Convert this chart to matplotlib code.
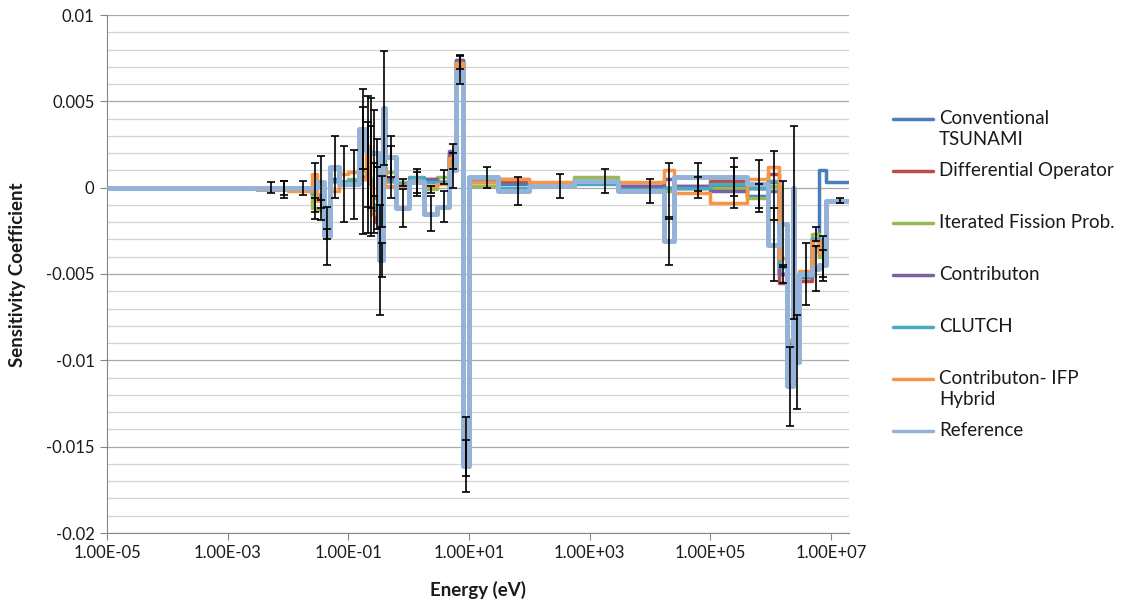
import numpy as np
import matplotlib
matplotlib.use("Agg")
import matplotlib.pyplot as plt
from matplotlib.lines import Line2D
from matplotlib.ticker import NullLocator

plt.rcParams["font.family"] = ["Lato", "DejaVu Sans"]

# ----------------------------------------------------------------------
# 44-group energy structure (eV) and the sensitivity profiles read off
# the reference chart, one value per group.
# ----------------------------------------------------------------------
edges = [1e-5, 3e-3, 7.5e-3, 1e-2, 2.53e-2, 3e-2, 4e-2, 5e-2, 7e-2, 0.1,
         0.15, 0.2, 0.225, 0.25, 0.275, 0.325, 0.35, 0.375, 0.4, 0.625,
         1.0, 1.77, 3.0, 4.75, 6.0, 8.1, 10.0, 30.0, 100.0, 550.0,
         3e3, 1.7e4, 2.5e4, 1e5, 4e5, 9e5, 1.4e6, 1.85e6, 2.354e6, 2.479e6,
         3e6, 4.8e6, 6.434e6, 8.187e6, 2e7]

conventional = [0, -0.0001, -0.0001, -0.0001, -0.0003, -0.0005, -0.0026, 0.0005, 0.0003, 0.0004, 0.0006,
                0.0006, 0.0004, -0.0010, -0.0012, -0.0018, -0.0010, 0.0012, 0.0004, 0.0002, 0.0004, 0.0003,
                0.0003, 0.0018, 0.0073, -0.0150, 0.0004, 0.0002, 0.0002, 0.0003, 0.0001, 0.0000, 0.0000,
                0.0001, -0.0005, -0.0002, -0.0050, -0.0090, -0.0020, -0.0088, -0.0052, -0.0034, 0.0010, 0.00035]

diff_op = [0, -0.0001, -0.0001, -0.0001, -0.0004, -0.0006, -0.0026, 0.0004, 0.0003, 0.0004, 0.0006,
           0.0005, 0.0003, -0.0015, -0.0020, -0.0022, -0.0012, 0.0012, 0.0004, 0.0002, 0.0004, 0.0005,
           0.0003, 0.0020, 0.0074, -0.0148, 0.0004, 0.0004, 0.0002, 0.0003, 0.0001, 0.0000, 0.0001,
           0.0004, 0.0000, 0.0008, -0.0055, -0.0092, -0.0020, -0.0088, -0.0054, -0.0030, -0.0038, -0.0008]

ifp = [0, -0.0001, -0.0001, -0.0001, -0.0012, -0.0013, -0.0027, 0.0011, 0.0003, 0.0005, 0.0010,
       0.0006, 0.0004, -0.0006, -0.0006, -0.0016, -0.0008, 0.0011, 0.0009, 0.0003, 0.0003, -0.0001,
       0.0006, 0.0018, 0.0073, -0.0150, 0.0001, -0.0001, 0.0002, 0.0006, -0.0001, -0.0002, 0.0000,
       0.0000, -0.0006, 0.0001, -0.0050, -0.0088, -0.0020, -0.0086, -0.0052, -0.0027, -0.0040, -0.0008]

contributon = [0, -0.0001, -0.0001, -0.0001, -0.0003, -0.0005, -0.0026, 0.0004, 0.0003, 0.0004, 0.0006,
               0.0006, 0.0003, -0.0011, -0.0013, -0.0018, -0.0010, 0.0012, 0.0005, 0.0002, 0.0004, 0.0005,
               0.0003, 0.0021, 0.0074, -0.0152, 0.0003, 0.0005, 0.0002, 0.0003, 0.0001, 0.0005, 0.0001,
               -0.0002, 0.0000, 0.0003, -0.0050, -0.0090, -0.0020, -0.0087, -0.0052, -0.0030, -0.0038, -0.0008]

clutch = [0, -0.0001, -0.0001, -0.0001, -0.0003, -0.0004, -0.0026, 0.0004, 0.0003, 0.0004, 0.0005,
          0.0005, 0.0003, -0.0010, -0.0012, -0.0020, -0.0010, 0.0027, 0.0004, 0.0002, 0.0006, 0.0003,
          0.0003, 0.0016, 0.0072, -0.0150, 0.0004, 0.0000, 0.0001, 0.0002, -0.0001, 0.0000, 0.0000,
          0.0002, 0.0000, 0.0004, -0.0046, -0.0089, -0.0020, -0.0087, -0.0051, -0.0030, -0.0038, -0.0008]

hybrid = [0, -0.0001, -0.0001, -0.0002, 0.0008, -0.0008, -0.0026, -0.0002, 0.0008, 0.0009, 0.0005,
          0.0024, 0.0002, -0.0015, -0.0015, -0.0013, -0.0013, 0.0010, 0.0001, 0.0001, 0.0004, 0.0001,
          0.0002, 0.0017, 0.0072, -0.0152, 0.0003, 0.0005, 0.0003, 0.0004, 0.0003, 0.0010, -0.0003,
          -0.0009, 0.0005, 0.0012, -0.0041, -0.0088, -0.0020, -0.0085, -0.0048, -0.0031, -0.0038, -0.0008]

reference = [0, 0, 0, 0, 0, 0.00035, -0.0028, 0.0012, 0.0002, 0.0002, 0.0034,
             0.0021, 0.0020, 0.0020, 0.0020, -0.0042, -0.0042, 0.0046, 0.0018, -0.0012, 0.0003, -0.0015,
             -0.0011, 0.0010, 0.0068, -0.0161, 0.0006, -0.0002, 0.0001, 0.0004, -0.0002, -0.0031, 0.0006,
             0.0006, 0.0002, -0.0033, -0.0021, -0.0115, 0.0000, -0.0101, -0.0050, -0.0047, -0.0045, -0.00075]

# one-sigma uncertainties (0 = no bar drawn)
reference_err = [0, 0.0003, 0.0004, 0.0004, 0.0014, 0.0015, 0.0017, 0.0018, 0.0022, 0.0020, 0.0023,
                 0.0032, 0.0032, 0.0025, 0.0008, 0.0032, 0.0010, 0.0033, 0.0012, 0.0011, 0.0006, 0.0010,
                 0.0009, 0.0010, 0.0008, 0.0015, 0.0006, 0.0008, 0.0007, 0.0007, 0.0007, 0.0014, 0.0008,
                 0.0011, 0.0014, 0.0021, 0.0025, 0.0023, 0.0, 0.0027, 0.0018, 0.0013, 0.0009, 0.00015]

ifp_err = [0, 0, 0.0005, 0, 0.0006, 0.0006, 0.0003, 0, 0, 0, 0.0037,
           0.0032, 0.0032, 0.0020, 0.0018, 0, 0.0015, 0, 0.0015, 0.0002, 0.0008, 0.0002,
           0.0004, 0.0007, 0.0004, 0.0017, 0, 0, 0, 0, 0, 0.0016, 0.0006,
           0.0012, 0.0008, 0.0020, 0.0005, 0, 0.0056, 0, 0, 0.0004, 0.0012, 0]

series = [
    ("Conventional\nTSUNAMI",     conventional, "#4A7EBB"),
    ("Differential Operator",     diff_op,      "#BE4B48"),
    ("Iterated Fission Prob.",    ifp,          "#98B954"),
    ("Contributon",               contributon,  "#7D60A0"),
    ("CLUTCH",                    clutch,       "#46AAC5"),
    ("Contributon- IFP\nHybrid",  hybrid,       "#F79646"),
    ("Reference",                 reference,    "#95B3D7"),
]

# ----------------------------------------------------------------------
fig = plt.figure(figsize=(11.22, 6.04), dpi=100)
ax = fig.add_axes([107 / 1122, (604 - 533) / 604, 742 / 1122, 518 / 604])

edges_a = np.array(edges)
mids = 0.5 * (edges_a[:-1] + edges_a[1:])

for k, (label, vals, col) in enumerate(series):
    lw = 3.6 if label == "Reference" else 2.5
    ax.stairs(vals, edges_a, baseline=None, color=col, lw=lw, zorder=3 + k,
              joinstyle="round")

for vals, err in [(reference, reference_err), (ifp, ifp_err)]:
    v = np.array(vals); e = np.array(err)
    keep = e > 0
    ax.errorbar(mids[keep], v[keep], yerr=e[keep], fmt="none", ecolor="black",
                elinewidth=1.2, capsize=3.2, capthick=1.2, zorder=20)

ax.set_xscale("log")
ax.set_xlim(1e-5, 2e7)
ax.set_ylim(-0.02, 0.01)

xticks = [1e-5, 1e-3, 1e-1, 1e1, 1e3, 1e5, 1e7]
ax.set_xticks(xticks)
ax.set_xticklabels([f"{t:.2E}" for t in xticks])
ax.xaxis.set_minor_locator(NullLocator())

yticks = [-0.02, -0.015, -0.01, -0.005, 0, 0.005, 0.01]
ax.set_yticks(yticks)
ax.set_yticklabels(["-0.02", "-0.015", "-0.01", "-0.005", "0", "0.005", "0.01"])
ax.set_yticks(np.linspace(-0.02, 0.01, 31), minor=True)

ax.grid(which="minor", axis="y", color="#d4d4d4", lw=0.9)
ax.grid(which="major", axis="y", color="#a8a8a8", lw=0.9)
ax.set_axisbelow(True)

for s in ("top", "right"):
    ax.spines[s].set_visible(False)
for s in ("left", "bottom"):
    ax.spines[s].set_color("#868686")
ax.tick_params(which="major", direction="out", length=5, color="#868686",
               labelsize=12, labelcolor="#1a1a1a", pad=4)
ax.tick_params(which="minor", length=0)

fig.text(18 / 1122, 1 - 275 / 604, "Sensitivity Coefficient", rotation=90,
         ha="center", va="center", fontsize=13.5, fontweight="bold", color="#1a1a1a")
fig.text(478 / 1122, 1 - 590 / 604, "Energy (eV)", ha="center", va="center",
         fontsize=13.5, fontweight="bold", color="#1a1a1a")

# legend, drawn by hand so each handle sits on the first text line
legend_y = [119, 171, 223, 275, 327, 379, 431]
for (label, _, col), yp in zip(series, legend_y):
    yf = 1 - yp / 604
    fig.add_artist(Line2D([893 / 1122, 933 / 1122], [yf, yf], color=col, lw=2.5,
                          solid_capstyle="round"))
    fig.text(939 / 1122, 1 - (yp - 9) / 604, label, ha="left", va="top", fontsize=13.5,
             color="#1a1a1a", linespacing=1.3)

fig.savefig("out.png", dpi=100)
